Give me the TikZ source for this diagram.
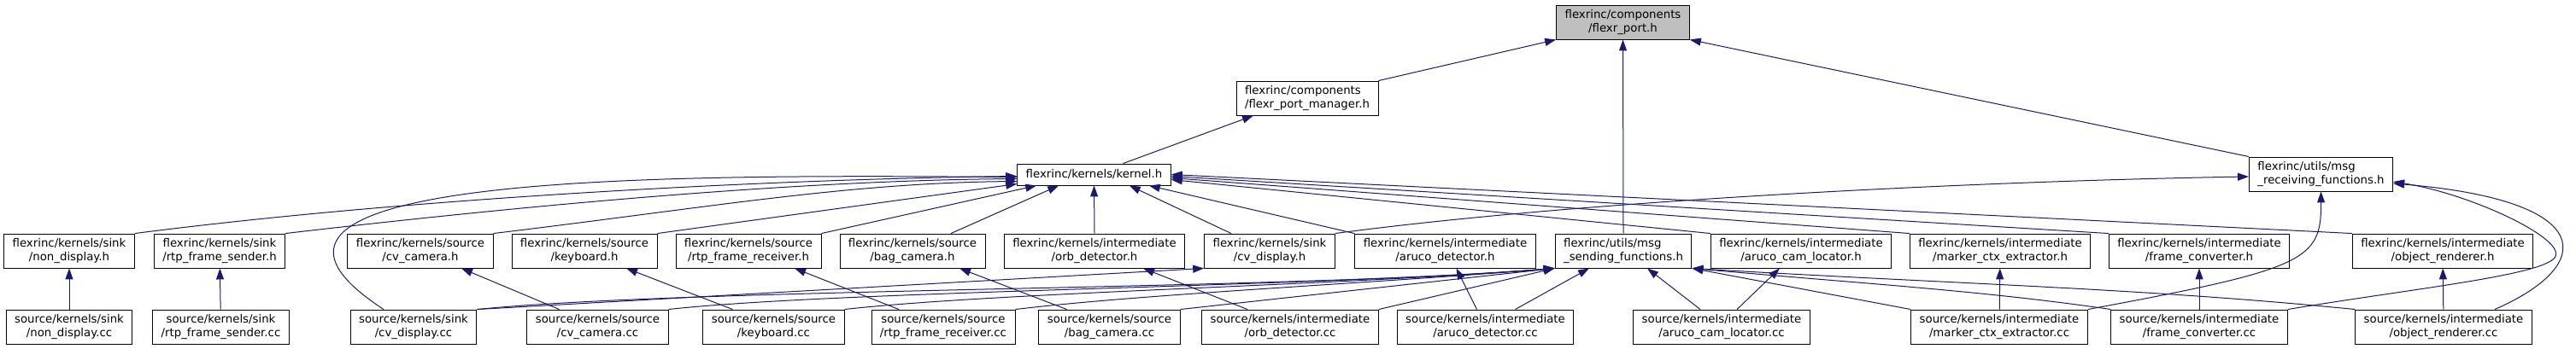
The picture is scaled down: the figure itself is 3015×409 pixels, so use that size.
\documentclass[tikz,border=0pt]{standalone}
\usepackage{fontspec}
\setmainfont{DejaVu Sans}
\usetikzlibrary{arrows.meta,calc}
\definecolor{midblue}{RGB}{25,25,112}
\definecolor{rootgray}{RGB}{191,191,191}
\tikzset{
  filebox/.style={draw=black, fill=white, line width=0.9pt, align=center, inner xsep=10pt, inner ysep=0pt, minimum height=40pt, font=\fontsize{13.3}{15.5}\selectfont},
  rootbox/.style={filebox, fill=rootgray},
  leftbox/.style={filebox, align=left},
  onebox/.style={filebox, minimum height=25pt},
  incl/.style={-{Triangle[length=13pt,width=9pt]}, draw=midblue, line width=1pt}
}

\begin{document}
\begin{tikzpicture}[x=1pt, y=-1pt]
\useasboundingbox (0,0) rectangle (3015,409);

\node[rootbox] (port) at (1899.5,26) {flexrinc/components\\/flexr\_port.h};
\node[leftbox] (portmgr) at (1530,115) {flexrinc/components\\/flexr\_port\_manager.h};
\node[onebox] (kernel) at (1280.5,204.5) {flexrinc/kernels/kernel.h};
\node[leftbox] (msgrecv) at (2716.5,204) {flexrinc/utils/msg\\\_receiving\_functions.h};

\node[filebox] (nondisph) at (81,294) {flexrinc/kernels/sink\\/non\_display.h};
\node[filebox] (rtpsendh) at (257,294) {flexrinc/kernels/sink\\/rtp\_frame\_sender.h};
\node[filebox] (cvcamh) at (492,294) {flexrinc/kernels/source\\/cv\_camera.h};
\node[filebox] (keybh) at (684,294) {flexrinc/kernels/source\\/keyboard.h};
\node[filebox] (rtprecvh) at (876,294) {flexrinc/kernels/source\\/rtp\_frame\_receiver.h};
\node[filebox] (bagcamh) at (1068,294) {flexrinc/kernels/source\\/bag\_camera.h};
\node[filebox] (orbh) at (1281,294) {flexrinc/kernels/intermediate\\/orb\_detector.h};
\node[filebox] (cvdisph) at (1486,294) {flexrinc/kernels/sink\\/cv\_display.h};
\node[filebox] (arucodeth) at (1691.5,294) {flexrinc/kernels/intermediate\\/aruco\_detector.h};
\node[leftbox] (msgsend) at (1900,294) {flexrinc/utils/msg\\\_sending\_functions.h};
\node[filebox] (arucocamh) at (2108,294) {flexrinc/kernels/intermediate\\/aruco\_cam\_locator.h};
\node[filebox] (markerh) at (2341,294) {flexrinc/kernels/intermediate\\/marker\_ctx\_extractor.h};
\node[filebox] (framecvh) at (2574,294) {flexrinc/kernels/intermediate\\/frame\_converter.h};
\node[filebox] (objrendh) at (2859,294) {flexrinc/kernels/intermediate\\/object\_renderer.h};

\node[filebox] (nondispcc) at (81,383) {source/kernels/sink\\/non\_display.cc};
\node[filebox] (rtpsendcc) at (258.5,383) {source/kernels/sink\\/rtp\_frame\_sender.cc};
\node[filebox] (cvdispcc) at (484,383) {source/kernels/sink\\/cv\_display.cc};
\node[filebox] (cvcamcc) at (699.5,383) {source/kernels/source\\/cv\_camera.cc};
\node[filebox] (keybcc) at (905.5,383) {source/kernels/source\\/keyboard.cc};
\node[filebox] (rtprecvcc) at (1104,383) {source/kernels/source\\/rtp\_frame\_receiver.cc};
\node[filebox] (bagcamcc) at (1298.5,383) {source/kernels/source\\/bag\_camera.cc};
\node[filebox] (orbcc) at (1510,383) {source/kernels/intermediate\\/orb\_detector.cc};
\node[filebox] (arucodetcc) at (1738.5,383) {source/kernels/intermediate\\/aruco\_detector.cc};
\node[filebox] (arucocamcc) at (2015,383) {source/kernels/intermediate\\/aruco\_cam\_locator.cc};
\node[filebox] (markercc) at (2340,383) {source/kernels/intermediate\\/marker\_ctx\_extractor.cc};
\node[filebox] (framecvcc) at (2574,383) {source/kernels/intermediate\\/frame\_converter.cc};
\node[filebox] (objrendcc) at (2860,383) {source/kernels/intermediate\\/object\_renderer.cc};

\draw[incl] (portmgr.north east) -- (port.south west);
\draw[incl] (msgsend.north) -- (port.south);
\draw[incl] (msgrecv.north west) -- (port.south east);
\draw[incl] ([xshift=34pt]kernel.north) -- ([xshift=-63pt]portmgr.south);

\draw[incl] (nondisph.north east) .. controls +(350,-45) and +(-250,3) .. ($(kernel.west)+(0,2)$);
\draw[incl] ([xshift=-35pt]cvdispcc.north) .. controls (200,200) and (800,205) .. ($(kernel.west)+(0,3)$);
\draw[incl] (rtpsendh.north east) .. controls +(300,-35) and +(-250,2) .. ($(kernel.west)+(0,5)$);
\draw[incl] (cvcamh.north east) .. controls +(250,-30) and +(-200,2) .. ($(kernel.west)+(0,8)$);
\draw[incl] (keybh.north east) -- ($(kernel.west)+(0,11)$);
\draw[incl] (rtprecvh.north east) -- ($(kernel.south west)+(23,0)$);
\draw[incl] ([xshift=45pt]bagcamh.north) -- ($(kernel.south west)+(49,0)$);
\draw[incl] (orbh.north) -- (kernel.south);
\draw[incl] ([xshift=-45pt]cvdisph.north) -- ($(kernel.south east)+(-49,0)$);
\draw[incl] (arucodeth.north west) -- ($(kernel.south east)+(-26,0)$);
\draw[incl] (arucocamh.north west) -- ($(kernel.east)+(0,6)$);
\draw[incl] (markerh.north west) -- ($(kernel.east)+(0,4)$);
\draw[incl] (framecvh.north west) -- ($(kernel.east)+(0,2)$);
\draw[incl] (objrendh.north west) -- (kernel.east);

\draw[incl] (cvdisph.north east) .. controls +(300,-40) and +(-300,5) .. ($(msgrecv.west)+(0,3)$);
\draw[incl] (markercc.north east) .. controls (2700,315) and (2717,305) .. (msgrecv.south);
\draw[incl] (framecvcc.north east) .. controls +(150,-25) and +(-8,22) .. ($(objrendh.east)+(26,6)$)
  .. controls +(8,-22) and +(90,14) .. ($(msgrecv.east)+(0,9)$);
\draw[incl] ([xshift=60pt]objrendcc.north) .. controls (3040,310) and (3040,235) .. ($(msgrecv.east)+(0,11)$);

\draw[incl] (nondispcc) -- (nondisph);
\draw[incl] (rtpsendcc) -- (rtpsendh);
\draw[incl] ([xshift=-45pt]cvcamcc.north) -- ([xshift=48pt]cvcamh.south);
\draw[incl] ([xshift=-48pt]keybcc.north) -- ([xshift=49pt]keybh.south);
\draw[incl] ([xshift=-52pt]rtprecvcc.north) -- ([xshift=54pt]rtprecvh.south);
\draw[incl] ([xshift=-50pt]bagcamcc.north) -- ([xshift=55pt]bagcamh.south);
\draw[incl] ([xshift=-50pt]orbcc.north) -- ([xshift=57pt]orbh.south);
\draw[incl] (cvdispcc.north east) -- (cvdisph.south west);
\draw[incl] ([xshift=-10pt]arucodetcc.north) -- ([xshift=13pt]arucodeth.south);
\draw[incl] ([xshift=18pt]arucocamcc.north) -- ([xshift=-25pt]arucocamh.south);
\draw[incl] (markercc) -- (markerh);
\draw[incl] (framecvcc) -- (framecvh);
\draw[incl] (objrendcc) -- (objrendh);

\draw[incl] (cvdispcc.north east) .. controls +(250,-25) and +(-300,25) .. (msgsend.south west);
\draw[incl] (cvcamcc.north east) .. controls +(200,-22) and +(-280,22) .. (msgsend.south west);
\draw[incl] (keybcc.north east) .. controls +(180,-20) and +(-250,20) .. (msgsend.south west);
\draw[incl] (rtprecvcc.north east) .. controls +(150,-18) and +(-220,18) .. (msgsend.south west);
\draw[incl] (bagcamcc.north east) -- (msgsend.south west);
\draw[incl] (orbcc.north east) -- (msgsend.south west);
\draw[incl] ([xshift=35pt]arucodetcc.north) -- ([xshift=-40pt]msgsend.south);
\draw[incl] ([xshift=-25pt]arucocamcc.north) -- ([xshift=28pt]msgsend.south);
\draw[incl] (markercc.north west) -- (msgsend.south east);
\draw[incl] (framecvcc.north west) .. controls +(-150,-22) and +(200,18) .. (msgsend.south east);
\draw[incl] (objrendcc.north west) .. controls +(-250,-25) and +(300,18) .. (msgsend.south east);
\end{tikzpicture}
\end{document}
